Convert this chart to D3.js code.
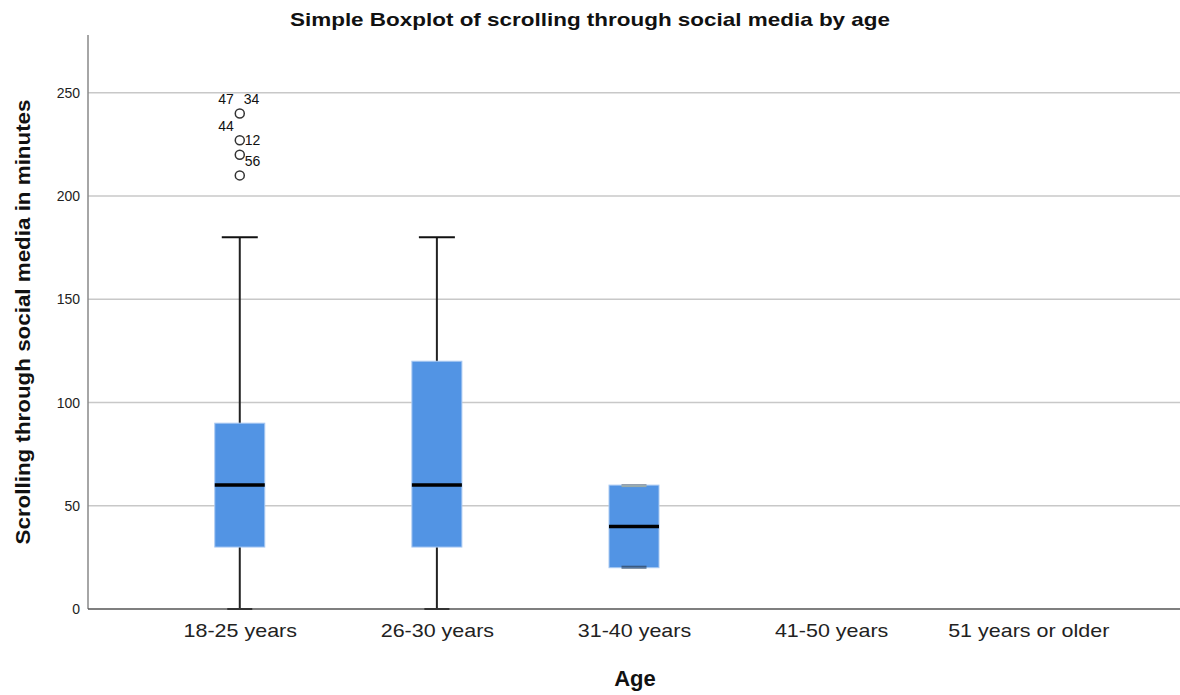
<!DOCTYPE html>
<html>
<head>
<meta charset="utf-8">
<script src="https://cdn.jsdelivr.net/npm/d3@7"></script>
<style>
  body { margin: 0; background: #fff; }
  text { font-family: "Liberation Sans", Arial, sans-serif; }
</style>
</head>
<body>
<svg id="chart"></svg>
<script>
var Categories = ['18-25 years', '26-30 years', '31-40 years', '41-50 years', '51 years or older'];
var WhiskerLow = [0, 0, 20, null, null];
var Q1 = [30, 30, 20, null, null];
var Median = [60, 60, 40, null, null];
var Q3 = [90, 120, 60, null, null];
var WhiskerHigh = [180, 180, 60, null, null];
var Outliers = [
    { cat: '18-25 years', value: 240 },
    { cat: '18-25 years', value: 227 },
    { cat: '18-25 years', value: 220 },
    { cat: '18-25 years', value: 210 }
];
var OutlierLabels = [
    { cat: '18-25 years', value: 240, id: '47', side: 'upleft' },
    { cat: '18-25 years', value: 240, id: '34', side: 'upright' },
    { cat: '18-25 years', value: 227, id: '44', side: 'upleft' },
    { cat: '18-25 years', value: 227, id: '12', side: 'right' },
    { cat: '18-25 years', value: 220, id: '56', side: 'downright' }
];
var YTicks = [0, 50, 100, 150, 200, 250];

var width = 1180, height = 695;
var margin = { top: 35, right: 0, bottom: 86, left: 88 };
var stretch = 1.13;

var svg = d3.select('#chart').attr('width', width).attr('height', height);

var x = d3.scalePoint().domain(Categories).range([margin.left, width - margin.right]).padding(0.77);
var y = d3.scaleLinear().domain([0, 278]).range([height - margin.bottom, margin.top]);

// grid
svg.append('g').selectAll('line')
    .data(YTicks.filter(d => d > 0))
    .join('line')
    .attr('x1', margin.left).attr('x2', width - margin.right)
    .attr('y1', d => y(d)).attr('y2', d => y(d))
    .attr('stroke', '#c8c8c8').attr('stroke-width', 1.5);

// y axis
var yAxis = d3.axisLeft(y).tickValues(YTicks).tickSize(0).tickPadding(8);
var yg = svg.append('g').attr('transform', `translate(${margin.left},0)`).call(yAxis);
yg.select('.domain').remove();
yg.selectAll('text').attr('font-size', 14).attr('fill', '#222');
svg.append('line')
    .attr('x1', margin.left).attr('x2', margin.left)
    .attr('y1', margin.top).attr('y2', y(0))
    .attr('stroke', '#888').attr('stroke-width', 1.5);

// x axis
var xAxis = d3.axisBottom(x).tickSize(0).tickPadding(15);
var xg = svg.append('g').attr('transform', `translate(0,${y(0)})`).call(xAxis);
xg.select('.domain').remove();
xg.selectAll('text').attr('font-size', 19).attr('fill', '#222')
    .each(function () {
        var len = this.getComputedTextLength();
        d3.select(this).attr('textLength', len * stretch).attr('lengthAdjust', 'spacingAndGlyphs');
    });
svg.append('line')
    .attr('x1', margin.left).attr('x2', width - margin.right)
    .attr('y1', y(0)).attr('y2', y(0))
    .attr('stroke', '#555').attr('stroke-width', 1.5);

var boxes = Categories.map((c, i) => ({
    cat: c, lo: WhiskerLow[i], q1: Q1[i], med: Median[i], q3: Q3[i], hi: WhiskerHigh[i]
})).filter(d => d.med !== null);

var boxW = 50, capW = 36;

var g = svg.append('g');
// whiskers
g.selectAll('.whisker')
    .data(boxes)
    .join('line')
    .attr('x1', d => x(d.cat)).attr('x2', d => x(d.cat))
    .attr('y1', d => y(d.lo)).attr('y2', d => y(d.hi))
    .attr('stroke', '#222').attr('stroke-width', 2);
// caps
g.selectAll('.caphi')
    .data(boxes)
    .join('line')
    .attr('x1', d => x(d.cat) - (d.hi > d.q3 ? capW / 2 : 12.5))
    .attr('x2', d => x(d.cat) + (d.hi > d.q3 ? capW / 2 : 12.5))
    .attr('y1', d => y(d.hi)).attr('y2', d => y(d.hi))
    .attr('stroke', d => d.hi > d.q3 ? '#111' : '#777').attr('stroke-width', 2);
g.selectAll('.caplo')
    .data(boxes)
    .join('line')
    .attr('x1', d => x(d.cat) - 12.5).attr('x2', d => x(d.cat) + 12.5)
    .attr('y1', d => y(d.lo)).attr('y2', d => y(d.lo))
    .attr('stroke', d => d.lo < d.q1 ? '#333' : '#456').attr('stroke-width', 2);
// boxes
g.selectAll('.box')
    .data(boxes)
    .join('rect')
    .attr('x', d => x(d.cat) - boxW / 2)
    .attr('width', boxW)
    .attr('y', d => y(d.q3))
    .attr('height', d => y(d.q1) - y(d.q3))
    .attr('fill', '#5294e4')
    .attr('stroke', '#a9c9f2').attr('stroke-width', 1);
// caps that coincide with box edges
g.selectAll('.capedge')
    .data(boxes.filter(d => d.hi === d.q3))
    .join('line')
    .attr('x1', d => x(d.cat) - 12.5).attr('x2', d => x(d.cat) + 12.5)
    .attr('y1', d => y(d.hi) + 1).attr('y2', d => y(d.hi) + 1)
    .attr('stroke', '#9aa').attr('stroke-width', 2);
g.selectAll('.capedgelo')
    .data(boxes.filter(d => d.lo === d.q1))
    .join('line')
    .attr('x1', d => x(d.cat) - 12.5).attr('x2', d => x(d.cat) + 12.5)
    .attr('y1', d => y(d.lo) - 1).attr('y2', d => y(d.lo) - 1)
    .attr('stroke', '#3a5a80').attr('stroke-width', 2);
// medians
g.selectAll('.median')
    .data(boxes)
    .join('line')
    .attr('x1', d => x(d.cat) - boxW / 2).attr('x2', d => x(d.cat) + boxW / 2)
    .attr('y1', d => y(d.med)).attr('y2', d => y(d.med))
    .attr('stroke', '#000').attr('stroke-width', 3.5);

// outliers
g.selectAll('.outlier')
    .data(Outliers)
    .join('circle')
    .attr('cx', d => x(d.cat)).attr('cy', d => y(d.value))
    .attr('r', 4.5)
    .attr('fill', 'none').attr('stroke', '#333').attr('stroke-width', 1.5);

var offsets = {
    upleft: { dx: -6, dy: -9, anchor: 'end' },
    upright: { dx: 4, dy: -9, anchor: 'start' },
    right: { dx: 5, dy: 5, anchor: 'start' },
    downright: { dx: 5, dy: 11, anchor: 'start' }
};
g.selectAll('.olabel')
    .data(OutlierLabels)
    .join('text')
    .attr('x', d => x(d.cat) + offsets[d.side].dx)
    .attr('y', d => y(d.value) + offsets[d.side].dy)
    .attr('text-anchor', d => offsets[d.side].anchor)
    .attr('font-size', 14).attr('fill', '#111')
    .text(d => d.id);

// titles
svg.append('text')
    .attr('x', 590).attr('y', 26)
    .attr('text-anchor', 'middle')
    .attr('font-size', 19).attr('font-weight', 'bold').attr('fill', '#111')
    .attr('textLength', 600).attr('lengthAdjust', 'spacingAndGlyphs')
    .text('Simple Boxplot of scrolling through social media by age');
svg.append('text')
    .attr('x', 635).attr('y', 686)
    .attr('text-anchor', 'middle')
    .attr('font-size', 22).attr('font-weight', 'bold').attr('fill', '#111')
    .text('Age');
svg.append('text')
    .attr('transform', 'translate(30,322) rotate(-90)')
    .attr('text-anchor', 'middle')
    .attr('font-size', 21).attr('font-weight', 'bold').attr('fill', '#111')
    .attr('textLength', 445).attr('lengthAdjust', 'spacingAndGlyphs')
    .text('Scrolling through social media in minutes');
</script>
</body>
</html>
